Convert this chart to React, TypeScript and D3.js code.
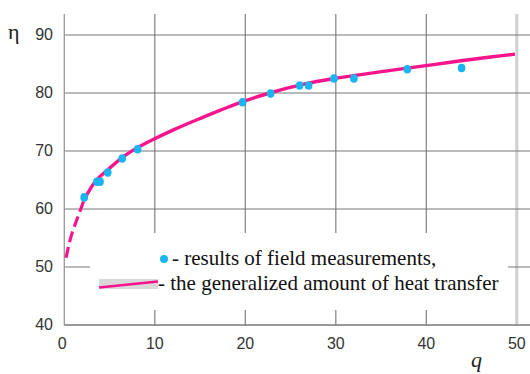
import React from "react";
import * as d3 from "d3";

const xTicks = [0, 10, 20, 30, 40, 50];
const yTicks = [40, 50, 60, 70, 80, 90];

// measured points (q, eta)
const measQ = [2.2, 3.6, 3.95, 4.8, 6.4, 8.1, 19.7, 22.8, 26.0, 27.0, 29.8, 32.0, 37.9, 43.9];
const measEta = [62.0, 64.7, 64.7, 66.3, 68.7, 70.3, 78.4, 79.9, 81.3, 81.3, 82.5, 82.5, 84.1, 84.3];

// generalized curve, extrapolated (dashed) part
const dashQ = [0.2, 0.5, 0.85, 1.3, 1.77, 2.2];
const dashEta = [51.6, 53.8, 55.8, 57.8, 59.8, 61.6];

// generalized curve, solid part
const solidQ = [2.2, 3.4, 4.9, 6.5, 8.0, 9.7, 12.0, 15.0, 19.7, 22.7, 26.1, 29.8, 32.0, 37.9, 40.8, 44.0, 47.1, 49.8];
const solidEta = [61.6, 64.7, 66.9, 69.0, 70.5, 71.9, 73.6, 75.6, 78.5, 80.0, 81.4, 82.5, 83.0, 84.3, 84.9, 85.6, 86.2, 86.7];

const legendItems = ["- results of field measurements,", "- the generalized amount of heat transfer"];

const PINK = "#f8148c";
const BLUE = "#1ab4f0";

export default function App() {
  const x = d3.scaleLinear().domain([0, 50]).range([64.3, 516.8]);
  const y = d3.scaleLinear().domain([40, 90]).range([325, 35]);
  const top = 14;
  const rightEnd = 530;

  const line = d3
    .line<[number, number]>()
    .x((d) => x(d[0]))
    .y((d) => y(d[1]))
    .curve(d3.curveCatmullRom.alpha(0.5));

  const dashPts: [number, number][] = dashQ.map((q, i) => [q, dashEta[i]]);
  const solidPts: [number, number][] = solidQ.map((q, i) => [q, solidEta[i]]);

  const tickStyle = { fontFamily: '"Liberation Sans"', fontSize: "16px" };
  const serifStyle = { fontFamily: '"Liberation Serif"', fontSize: "21px" };

  return (
    <svg
      width={530}
      height={374}
      style={{ position: "absolute", left: 0, top: 0, background: "#fff" }}
    >
      <rect x={0} y={0} width={530} height={374} fill="#fff" />
      {/* vertical gridlines */}
      {xTicks.slice(1, 5).map((t) => (
        <line key={"vx" + t} x1={x(t)} x2={x(t)} y1={top} y2={325} stroke="#8a8a8a" strokeWidth={1.3} />
      ))}
      <line x1={x(50)} x2={x(50)} y1={top} y2={325} stroke="#cfcfcf" strokeWidth={3} />
      {/* horizontal gridlines */}
      {yTicks.slice(1).map((t) => (
        <line key={"hy" + t} x1={x(0)} x2={rightEnd} y1={y(t)} y2={y(t)} stroke="#777" strokeWidth={1} />
      ))}
      {/* legend white box */}
      <rect x={90} y={233} width={418} height={77} fill="#fff" />
      {/* axes */}
      <line x1={x(0)} x2={x(0)} y1={top} y2={325} stroke="#999" strokeWidth={1.3} />
      <line x1={x(0)} x2={rightEnd} y1={325} y2={325} stroke="#777" strokeWidth={1.3} />
      {/* tick labels */}
      {yTicks.map((t) => (
        <text key={"yl" + t} x={53} y={y(t) + 5} textAnchor="end" style={tickStyle} fill="#333">
          {t}
        </text>
      ))}
      {xTicks.map((t) => (
        <text key={"xl" + t} x={x(t) - (t === 0 ? 2 : 0)} y={349} textAnchor="middle" style={tickStyle} fill="#333">
          {t}
        </text>
      ))}
      {/* axis titles */}
      <text x={8} y={39} style={{ ...serifStyle, fontSize: "22px" }} fill="#222">η</text>
      <text x={471} y={367} style={{ ...serifStyle, fontSize: "22px", fontStyle: "italic" }} fill="#222">q</text>
      {/* curve */}
      <path d={line(dashPts) || ""} fill="none" stroke={PINK} strokeWidth={3.2} strokeDasharray="11 5" />
      <path d={line(solidPts) || ""} fill="none" stroke={PINK} strokeWidth={3.4} />
      {/* points */}
      {measQ.map((q, i) => (
        <ellipse key={"p" + i} cx={x(q)} cy={y(measEta[i])} rx={3.8} ry={4.3} fill={BLUE} />
      ))}
      {/* legend */}
      <circle cx={164} cy={259} r={4} fill={BLUE} />
      <text x={172} y={265} style={serifStyle} fill="#111">{legendItems[0]}</text>
      <rect x={99} y={279} width={59} height={10} fill="#d9d9d9" />
      <line x1={99} y1={287.5} x2={158} y2={281.5} stroke={PINK} strokeWidth={2.4} />
      <text x={158} y={289.5} style={serifStyle} fill="#111">{legendItems[1]}</text>
    </svg>
  );
}
